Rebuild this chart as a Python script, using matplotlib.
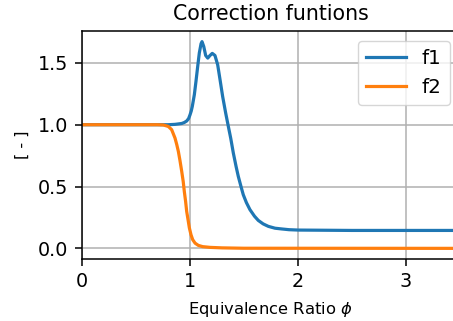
import numpy as np
import matplotlib
matplotlib.use('Agg')
import matplotlib.pyplot as plt

# values
phi_f1 = [0.0, 0.80, 0.864, 0.926, 0.95, 0.972, 0.99, 1.003, 1.014, 1.024, 1.043,
          1.058, 1.074, 1.089, 1.105, 1.114, 1.13, 1.148, 1.167, 1.188, 1.209,
          1.234, 1.259, 1.281, 1.305, 1.333, 1.358, 1.38, 1.404, 1.43, 1.45,
          1.475, 1.496, 1.525, 1.558, 1.60, 1.635, 1.68, 1.728, 1.79, 1.852,
          1.92, 2.006, 2.5, 3.5]
f1 = [1.0, 1.0, 1.003, 1.01, 1.018, 1.03, 1.05, 1.08, 1.11, 1.148, 1.243,
      1.35, 1.471, 1.58, 1.655, 1.672, 1.633, 1.56, 1.539, 1.56, 1.577,
      1.56, 1.485, 1.364, 1.229, 1.095, 0.985, 0.89, 0.771, 0.66, 0.582,
      0.50, 0.434, 0.37, 0.313, 0.26, 0.226, 0.198, 0.178, 0.163, 0.157,
      0.151, 0.148, 0.145, 0.145]

phi_f2 = [0.0, 0.70, 0.756, 0.802, 0.833, 0.864, 0.88, 0.895, 0.91, 0.926, 0.94,
          0.950, 0.962, 0.972, 0.985, 0.997, 1.012, 1.028, 1.05, 1.08, 1.12,
          1.188, 1.30, 1.5, 3.5]
f2 = [1.0, 1.0, 0.998, 0.986, 0.96, 0.892, 0.84, 0.784, 0.71, 0.623, 0.54,
      0.461, 0.38, 0.299, 0.23, 0.165, 0.11, 0.070, 0.042, 0.024, 0.014,
      0.008, 0.004, 0.001, 0.0]

fig = plt.figure(figsize=(4.53, 3.21), dpi=100)
# axes run past the right edge, like the cropped original
ax = fig.add_axes([81.7 / 453, 62.3 / 321, 378 / 453, 227.4 / 321])

ax.plot(phi_f1, f1, color='#1f77b4', lw=2.3, label='f1')
ax.plot(phi_f2, f2, color='#ff7f0e', lw=2.3, label='f2')

ax.set_xlim(0, 3.5)
ax.set_xticks([0, 1, 2, 3])
ax.set_yticks([0.0, 0.5, 1.0, 1.5])
ax.grid(True, color='#b0b0b0', lw=1.1)
ax.tick_params(labelsize=13.8, length=4.8, width=1.1, pad=5)
for s in ax.spines.values():
    s.set_linewidth(1.1)

ax.set_title('Correction funtions', fontsize=14.8, pad=8)
ax.set_xlabel(r'Equivalence Ratio $\phi$', fontsize=11.8, labelpad=6)
ax.set_ylabel('[ - ]', fontsize=11.5, labelpad=6)
ax.legend(loc='upper right', fontsize=14.3)

fig.savefig('out.png', dpi=100)
